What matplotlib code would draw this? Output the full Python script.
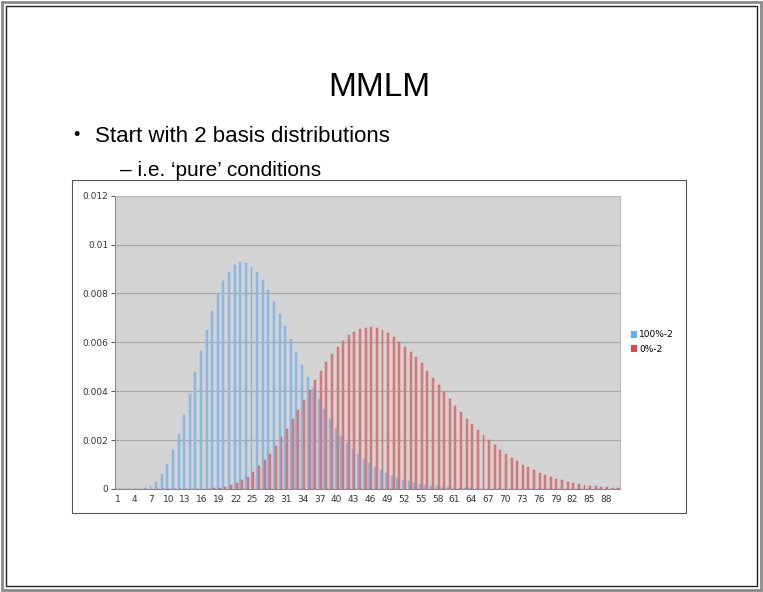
import matplotlib
matplotlib.use("Agg")
import matplotlib.pyplot as plt
import numpy as np
from matplotlib.patches import Rectangle, Patch

# categories 1..90
categories = list(range(1, 91))

# series "100%-2" (blue)
blue_values = [
    0, 0, 0, 0, 0.00001, 0.00004, 0.00013, 0.0003, 0.0006, 0.00103,
    0.00158, 0.00223, 0.00302, 0.00388, 0.00478, 0.00566, 0.0065, 0.00728, 0.00796, 0.0085,
    0.00888, 0.00916, 0.00929, 0.00925, 0.00909, 0.00887, 0.00854, 0.00814, 0.00766, 0.00718,
    0.00667, 0.00612, 0.00559, 0.00507, 0.00457, 0.00412, 0.00367, 0.00327, 0.00286, 0.00249,
    0.00218, 0.00188, 0.00163, 0.00143, 0.00122, 0.00106, 0.0009, 0.00076, 0.00064, 0.00054,
    0.00045, 0.00037, 0.00031, 0.00025, 0.00021, 0.00017, 0.00014, 0.00011, 0.00009, 0.00007,
    0.00006, 0.00005, 0.00004, 0.00003, 0.00002, 0.00001, 0.00001, 0.00001, 0, 0,
    0, 0, 0, 0, 0, 0, 0, 0, 0, 0,
    0, 0, 0, 0, 0, 0, 0, 0, 0, 0,
]

# series "0%-2" (red)
red_values = [
    0, 0, 0, 0, 0, 0, 0, 0, 0, 0,
    0, 0, 0, 0, 0, 0, 0.00001, 0.00003, 0.00005, 0.00009,
    0.00015, 0.00024, 0.00035, 0.0005, 0.0007, 0.00093, 0.0012, 0.00144, 0.00174, 0.00211,
    0.00245, 0.00286, 0.00324, 0.00365, 0.00405, 0.00446, 0.00484, 0.00521, 0.00551, 0.00582,
    0.00605, 0.00629, 0.00644, 0.00654, 0.0066, 0.00661, 0.00657, 0.0065, 0.00638, 0.00623,
    0.00603, 0.00582, 0.00562, 0.00539, 0.00514, 0.00484, 0.00454, 0.00426, 0.00397, 0.00369,
    0.0034, 0.00314, 0.00288, 0.00265, 0.00242, 0.0022, 0.00199, 0.0018, 0.00161, 0.00144,
    0.00128, 0.00113, 0.00099, 0.00088, 0.00076, 0.00066, 0.00057, 0.00049, 0.00042, 0.00036,
    0.0003, 0.00025, 0.00021, 0.00017, 0.00014, 0.00011, 0.00009, 0.00007, 0.00005, 0.00004,
]

series_names = ["100%-2", "0%-2"]
y_ticks = [0, 0.002, 0.004, 0.006, 0.008, 0.01, 0.012]
y_tick_labels = ["0", "0.002", "0.004", "0.006", "0.008", "0.01", "0.012"]
x_tick_labels = [str(c) for c in categories[::3]]

W, H = 763, 592
fig = plt.figure(figsize=(W / 100, H / 100), dpi=100)
fig.patch.set_facecolor("white")


def fx(px):
    return px / W


def fy(py):
    return 1 - py / H


# slide border
fig.add_artist(Rectangle((fx(2), fy(590)), fx(759), 588 / H, transform=fig.transFigure,
                         fill=False, edgecolor="#8a8a8a", linewidth=2.0))
fig.add_artist(Rectangle((fx(6), fy(586)), fx(751), 580 / H, transform=fig.transFigure,
                         fill=False, edgecolor="#222222", linewidth=1.0))

# slide text
fig.text(fx(379), fy(87), "MMLM", ha="center", va="center", fontsize=24,
         family="Liberation Sans", color="black")
fig.text(fx(73), fy(136), "•", ha="left", va="center", fontsize=13, family="Liberation Sans")
fig.text(fx(95), fy(136), "Start with 2 basis distributions", ha="left", va="center",
         fontsize=16, family="Liberation Sans")
fig.text(fx(120), fy(171), "– i.e. ‘pure’ conditions", ha="left", va="center",
         fontsize=15, family="Liberation Sans")

# chart box
fig.add_artist(Rectangle((fx(72), fy(513)), fx(614), 333 / H, transform=fig.transFigure,
                         facecolor="white", edgecolor="#555555", linewidth=0.8, zorder=0))

ax = fig.add_axes([fx(115), fy(489), fx(505), (489 - 195.7) / H])
ax.set_facecolor("#d4d4d4")

x = np.arange(len(categories))
bw = 0.35
ax.bar(x - bw / 2, blue_values, width=bw, color="#8fbbe9", edgecolor="#78a9df",
       linewidth=0.3, zorder=3)
ax.bar(x + bw / 2, red_values, width=bw, color="#dc7e80", edgecolor="#c9585b",
       linewidth=0.3, zorder=3)

ax.set_xlim(-0.5, len(categories) - 0.5)
ax.set_ylim(0, 0.012)
ax.set_yticks(y_ticks)
ax.set_yticklabels(y_tick_labels)
ax.set_xticks(x[::3])
ax.set_xticklabels(x_tick_labels)
ax.yaxis.grid(True, color="#a9a9a9", linewidth=0.9, zorder=1)
ax.set_axisbelow(True)
ax.tick_params(axis="both", labelsize=6.5, colors="#333333", length=3, width=0.6,
               pad=2)
ax.tick_params(axis="x", length=0, pad=4)
for side in ["top", "right"]:
    ax.spines[side].set_color("#b8b8b8")
    ax.spines[side].set_linewidth(0.8)
ax.spines["left"].set_color("#8a8a8a")
ax.spines["bottom"].set_color("#8a8a8a")
ax.spines["left"].set_linewidth(0.8)
ax.spines["bottom"].set_linewidth(0.8)

handles = [Patch(facecolor="#62aef5", edgecolor="none"),
           Patch(facecolor="#e34646", edgecolor="none")]
fig.legend(handles, series_names, loc="center left", bbox_to_anchor=(fx(631), fy(342)),
           frameon=False, fontsize=6.5, handlelength=0.65, handleheight=0.8,
           handletextpad=0.25, labelspacing=0.6, borderpad=0, borderaxespad=0)

fig.savefig("out.png", dpi=100, facecolor="white")
